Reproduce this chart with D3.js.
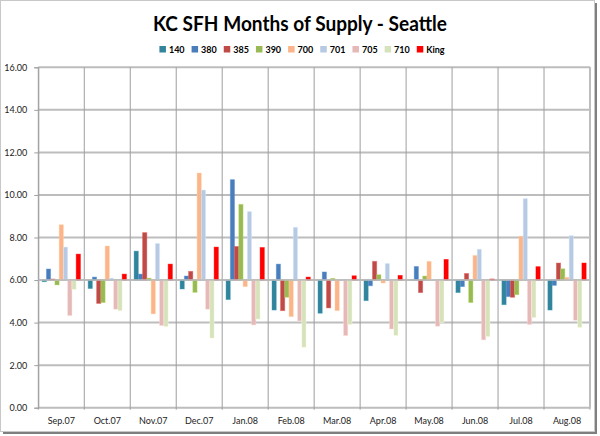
<!DOCTYPE html>
<html><head><meta charset="utf-8">
<script src="https://cdn.jsdelivr.net/npm/d3@7/dist/d3.min.js"></script>
<style>html,body{margin:0;padding:0;background:#fff;}svg{display:block;}</style>
</head><body>
<svg id="c" width="600" height="436"></svg>
<script>
const months = ["Sep.07","Oct.07","Nov.07","Dec.07","Jan.08","Feb.08","Mar.08","Apr.08","May.08","Jun.08","Jul.08","Aug.08"];
const seriesNames = ["140","380","385","390","700","701","705","710","King"];
const colors = ["#31849B","#4A7EBB","#BE4B48","#98B954","#FCB48A","#B7C9E3","#E4B9B8","#D5E2BC","#FF0000"];
const s140  = [5.92,5.60,7.36,5.58,5.08,4.59,4.44,5.03,6.00,5.41,4.84,4.59];
const s380  = [6.52,6.14,6.28,6.19,10.72,6.75,6.38,5.73,6.64,5.69,5.22,5.75];
const s385  = [6.05,4.90,8.23,6.41,7.58,4.56,4.69,6.88,5.41,6.31,5.19,6.80];
const s390  = [5.77,4.94,6.09,5.42,9.56,5.19,6.08,6.25,6.19,4.94,5.31,6.53];
const s700  = [8.60,7.60,4.41,11.03,5.69,4.28,4.56,5.86,6.88,7.16,8.06,6.13];
const s701  = [7.55,6.09,7.72,10.23,9.22,8.48,6.00,6.78,6.03,7.45,9.83,8.09];
const s705  = [4.33,4.63,3.86,4.63,3.89,4.08,3.39,3.70,3.83,3.19,3.91,4.11];
const s710  = [5.56,4.56,3.81,3.27,4.16,2.84,3.91,3.39,4.00,3.34,4.23,3.77];
const sKing = [7.22,6.28,6.75,7.55,7.53,6.14,6.20,6.22,6.97,6.05,6.63,6.80];
const yTicks = [0,2,4,6,8,10,12,14,16];
const baseline = 6;

const allSeries = [s140,s380,s385,s390,s700,s701,s705,s710,sKing];
const svg = d3.select("#c");
const font = "Lato, 'Open Sans', sans-serif";

// outer frame
svg.append("rect").attr("x",0.5).attr("y",0.5).attr("width",594).attr("height",431)
  .attr("fill","#fff").attr("stroke","#C8C8C8");
svg.append("line").attr("x1",596).attr("x2",596).attr("y1",3).attr("y2",434).attr("stroke","#7F7F7F").attr("stroke-width",2);
svg.append("line").attr("x1",3).attr("x2",597).attr("y1",433).attr("y2",433).attr("stroke","#7F7F7F").attr("stroke-width",2);

const L = 38.3, R = 590, T = 67.3, B = 407.7;
const x0 = d3.scaleBand().domain(months).range([L,R]).padding(0);
const x1 = d3.scaleBand().domain(seriesNames).range([0,x0.bandwidth()]).paddingInner(0).paddingOuter(0.9);
const y = d3.scaleLinear().domain([0,16]).range([B,T]);

// horizontal gridlines
svg.append("g").selectAll("line").data(yTicks).join("line")
  .attr("x1",L).attr("x2",R).attr("y1",d=>y(d)).attr("y2",d=>y(d))
  .attr("stroke","#BDBDBD").attr("stroke-width",2);
// vertical gridlines
const vb = months.map(m=>x0(m)).concat([R]);
svg.append("g").selectAll("line").data(vb).join("line")
  .attr("x1",d=>d).attr("x2",d=>d).attr("y1",T).attr("y2",B+2)
  .attr("stroke","#9E9E9E").attr("stroke-width",1);
svg.append("line").attr("x1",R).attr("x2",R).attr("y1",T).attr("y2",B)
  .attr("stroke","#BDBDBD").attr("stroke-width",2);

// y axis
const yAxis = d3.axisLeft(y).tickValues(yTicks).tickFormat(d3.format(".2f")).tickSize(4);
const ga = svg.append("g").attr("transform",`translate(${L},0)`).call(yAxis);
ga.select(".domain").attr("stroke","#9E9E9E");
ga.selectAll(".tick line").attr("stroke","#9E9E9E");
ga.selectAll("text").attr("font-family",font).attr("font-size",9).attr("fill","#222").attr("x",-11);

// bars
const g = svg.append("g");
months.forEach((m,i)=>{
  seriesNames.forEach((s,j)=>{
    const v = allSeries[j][i];
    const y0 = y(baseline), yv = y(v);
    g.append("rect")
      .attr("x",x0(m)+x1(s)).attr("width",x1.bandwidth())
      .attr("y",Math.min(y0,yv)).attr("height",Math.max(0.01,Math.abs(yv-y0)))
      .attr("fill",colors[j])
      .attr("stroke",d3.color(colors[j]).brighter(0.5)).attr("stroke-opacity",0.5).attr("stroke-width",0.8);
  });
});
// category axis line at baseline
svg.append("line").attr("x1",L).attr("x2",R).attr("y1",y(baseline)).attr("y2",y(baseline))
  .attr("stroke","#BDBDBD").attr("stroke-width",1.5);

// x labels
svg.append("g").selectAll("text").data(months).join("text")
  .attr("x",d=>x0(d)+x0.bandwidth()/2).attr("y",424)
  .attr("text-anchor","middle").attr("font-family",font).attr("font-size",9).attr("fill","#222")
  .text(d=>d);

// title
svg.append("text").attr("x",300).attr("y",31).attr("text-anchor","middle")
  .attr("font-family",font).attr("font-weight","bold").attr("font-size",20).attr("fill","#000")
  .attr("textLength",294).attr("lengthAdjust","spacingAndGlyphs")
  .text("KC SFH Months of Supply - Seattle");

// legend
const lg = svg.append("g");
const items = seriesNames.map((s,j)=>{
  const it = lg.append("g");
  it.append("rect").attr("x",0).attr("y",46).attr("width",6.5).attr("height",6.5).attr("fill",colors[j]);
  const t = it.append("text").attr("x",9.5).attr("y",52.5).attr("font-family",font).attr("font-weight","bold")
    .attr("font-size",9).attr("fill","#000").text(s);
  return {it, w: 9.5 + t.node().getComputedTextLength()};
});
const gap = 7;
const totalW = d3.sum(items, d=>d.w) + gap*(items.length-1);
let lx = 302 - totalW/2;
items.forEach(d=>{ d.it.attr("transform",`translate(${lx},0)`); lx += d.w + gap; });
</script>
</body></html>
